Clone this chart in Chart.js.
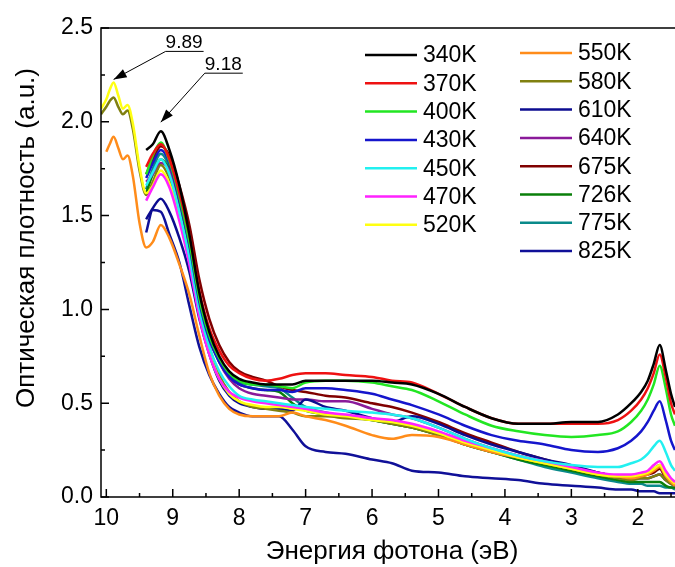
<!DOCTYPE html>
<html>
<head>
<meta charset="utf-8">
<script src="https://cdn.jsdelivr.net/npm/chart.js@4"></script>
<style>
  body { margin: 0; background: #fff; }
</style>
</head>
<body>
<canvas id="chart" width="675" height="567"></canvas>
<script>
const energy = [10.08, 10.0, 9.95, 9.89, 9.82, 9.75, 9.68, 9.6, 9.5, 9.4,
  9.3, 9.18, 9.05, 8.9, 8.75, 8.6, 8.45, 8.3, 8.15, 8.0,
  7.8, 7.6, 7.4, 7.2, 7.0, 6.7, 6.4, 6.0, 5.7, 5.4,
  5.0, 4.6, 4.2, 3.8, 3.4, 3.0, 2.6, 2.3, 2.1, 1.95,
  1.85, 1.76, 1.67, 1.58, 1.5, 1.44];

const t340 = [null, null, null, null, null, null, null, null, null, 1.85,
  1.88, 1.95, 1.85, 1.66, 1.40, 1.09, 0.88, 0.75, 0.67, 0.63,
  0.61, 0.60, 0.60, 0.60, 0.62, 0.62, 0.62, 0.62, 0.61, 0.60,
  0.55, 0.48, 0.42, 0.39, 0.39, 0.40, 0.40, 0.44, 0.50, 0.56,
  0.62, 0.71, 0.81, 0.68, 0.55, 0.48];
const t370 = [null, null, null, null, null, null, null, null, null, 1.76,
  1.83, 1.88, 1.80, 1.62, 1.40, 1.10, 0.90, 0.78, 0.70, 0.66,
  0.63, 0.62, 0.63, 0.65, 0.66, 0.66, 0.65, 0.64, 0.62, 0.61,
  0.55, 0.48, 0.42, 0.39, 0.39, 0.39, 0.39, 0.41, 0.46, 0.52,
  0.58, 0.66, 0.76, 0.64, 0.50, 0.44];
const t400 = [null, null, null, null, null, null, null, null, null, 1.72,
  1.82, 1.89, 1.79, 1.60, 1.36, 1.06, 0.86, 0.74, 0.66, 0.62,
  0.60, 0.60, 0.59, 0.58, 0.61, 0.62, 0.62, 0.61, 0.59, 0.57,
  0.51, 0.44, 0.38, 0.35, 0.33, 0.32, 0.33, 0.35, 0.40, 0.46,
  0.52, 0.60, 0.70, 0.58, 0.44, 0.38];
const t430 = [null, null, null, null, null, null, null, null, null, 1.70,
  1.78, 1.85, 1.78, 1.58, 1.34, 1.04, 0.84, 0.72, 0.64, 0.60,
  0.58, 0.57, 0.57, 0.56, 0.58, 0.58, 0.57, 0.55, 0.52, 0.49,
  0.44, 0.38, 0.33, 0.30, 0.28, 0.25, 0.24, 0.26, 0.30, 0.35,
  0.40, 0.46, 0.51, 0.41, 0.30, 0.25];
const t450 = [null, null, null, null, null, null, null, null, null, 1.66,
  1.73, 1.80, 1.72, 1.52, 1.28, 1.00, 0.80, 0.67, 0.59, 0.54,
  0.52, 0.51, 0.50, 0.49, 0.48, 0.47, 0.46, 0.45, 0.44, 0.42,
  0.37, 0.31, 0.26, 0.22, 0.19, 0.17, 0.16, 0.16, 0.18, 0.20,
  0.23, 0.27, 0.30, 0.24, 0.17, 0.14];
const t470 = [null, null, null, null, null, null, null, null, null, 1.58,
  1.65, 1.72, 1.65, 1.47, 1.24, 0.96, 0.76, 0.63, 0.56, 0.53,
  0.51, 0.50, 0.49, 0.48, 0.47, 0.45, 0.44, 0.42, 0.41, 0.39,
  0.35, 0.30, 0.26, 0.22, 0.19, 0.16, 0.13, 0.12, 0.12, 0.13,
  0.14, 0.17, 0.19, 0.14, 0.10, 0.08];
const t520 = [2.07, 2.12, 2.17, 2.21, 2.14, 2.07, 2.09, 1.99, 1.76, 1.62,
  1.66, 1.74, 1.67, 1.50, 1.27, 0.98, 0.77, 0.63, 0.55, 0.51,
  0.49, 0.48, 0.48, 0.47, 0.46, 0.44, 0.43, 0.41, 0.40, 0.38,
  0.34, 0.29, 0.25, 0.21, 0.18, 0.15, 0.12, 0.11, 0.11, 0.12,
  0.13, 0.15, 0.17, 0.12, 0.09, 0.07];
const t550 = [null, 1.84, 1.88, 1.92, 1.86, 1.80, 1.82, 1.71, 1.46, 1.33,
  1.36, 1.45, 1.38, 1.24, 1.08, 0.86, 0.66, 0.54, 0.47, 0.44,
  0.43, 0.43, 0.43, 0.45, 0.43, 0.41, 0.38, 0.33, 0.31, 0.33,
  0.32, 0.28, 0.24, 0.21, 0.18, 0.15, 0.12, 0.11, 0.10, 0.11,
  0.12, 0.14, 0.16, 0.11, 0.08, 0.06];
const t580 = [2.04, 2.08, 2.11, 2.13, 2.08, 2.04, 2.06, 1.96, 1.74, 1.61,
  1.68, 1.77, 1.70, 1.53, 1.30, 1.01, 0.80, 0.65, 0.56, 0.51,
  0.48, 0.47, 0.46, 0.45, 0.43, 0.43, 0.42, 0.41, 0.39, 0.37,
  0.33, 0.28, 0.24, 0.21, 0.18, 0.15, 0.12, 0.10, 0.09, 0.10,
  0.10, 0.11, 0.12, 0.09, 0.07, 0.06];
const t610 = [null, null, null, null, null, null, null, null, null, 1.48,
  1.54, 1.59, 1.52, 1.38, 1.20, 0.95, 0.76, 0.62, 0.54, 0.50,
  0.48, 0.47, 0.47, 0.46, 0.52, 0.48, 0.46, 0.42, 0.40, 0.43,
  0.39, 0.33, 0.28, 0.24, 0.20, 0.17, 0.13, 0.11, 0.10, 0.10,
  0.10, 0.11, 0.12, 0.09, 0.07, 0.06];
const t640 = [null, null, null, null, null, null, null, null, null, 1.68,
  1.72, 1.78, 1.74, 1.58, 1.36, 1.07, 0.86, 0.72, 0.63, 0.58,
  0.55, 0.54, 0.53, 0.52, 0.52, 0.51, 0.51, 0.47, 0.44, 0.42,
  0.37, 0.31, 0.26, 0.22, 0.19, 0.16, 0.13, 0.11, 0.11, 0.12,
  0.13, 0.15, 0.17, 0.12, 0.09, 0.07];
const t675 = [null, null, null, null, null, null, null, null, null, 1.72,
  1.80, 1.87, 1.82, 1.66, 1.45, 1.16, 0.95, 0.81, 0.72, 0.67,
  0.64, 0.62, 0.59, 0.57, 0.56, 0.54, 0.53, 0.50, 0.48, 0.45,
  0.40, 0.34, 0.29, 0.24, 0.20, 0.16, 0.13, 0.11, 0.10, 0.11,
  0.12, 0.13, 0.15, 0.10, 0.08, 0.06];
const t726 = [null, null, null, null, null, null, null, null, null, 1.62,
  1.72, 1.80, 1.74, 1.57, 1.34, 1.05, 0.85, 0.72, 0.64, 0.60,
  0.58, 0.57, 0.56, 0.50, 0.46, 0.44, 0.43, 0.41, 0.39, 0.37,
  0.33, 0.28, 0.24, 0.20, 0.17, 0.14, 0.11, 0.09, 0.08, 0.08,
  0.08, 0.08, 0.08, 0.06, 0.05, 0.05];
const t775 = [null, null, null, null, null, null, null, null, null, 1.64,
  1.75, 1.83, 1.76, 1.58, 1.35, 1.06, 0.86, 0.73, 0.65, 0.61,
  0.60, 0.59, 0.58, 0.53, 0.48, 0.45, 0.43, 0.41, 0.39, 0.37,
  0.33, 0.28, 0.24, 0.20, 0.16, 0.13, 0.10, 0.08, 0.07, 0.07,
  0.06, 0.06, 0.06, 0.05, 0.05, 0.04];
const t825 = [null, null, null, null, null, null, null, null, null, 1.41,
  1.53, 1.52, 1.40, 1.25, 1.02, 0.80, 0.65, 0.55, 0.48, 0.45,
  0.43, 0.43, 0.43, 0.36, 0.27, 0.24, 0.23, 0.20, 0.18, 0.14,
  0.13, 0.11, 0.10, 0.09, 0.07, 0.06, 0.05, 0.04, 0.04, 0.03,
  0.03, 0.03, 0.02, 0.02, 0.02, 0.02];

const seriesLabels = ["340K", "370K", "400K", "430K", "450K", "470K", "520K",
  "550K", "580K", "610K", "640K", "675K", "726K", "775K", "825K"];
const seriesValues = [t340, t370, t400, t430, t450, t470, t520,
  t550, t580, t610, t640, t675, t726, t775, t825];
const seriesColors = ["#000000", "#ee1111", "#22e622", "#1515cc", "#22f0f0", "#ff22ff", "#ffff11",
  "#ff8c1a", "#808010", "#0c0c90", "#8a1a9a", "#800000", "#0a7f0a", "#0a8a8a", "#101098"];

const xTicks = [10, 9, 8, 7, 6, 5, 4, 3, 2];
const xMinor = [9.5, 8.5, 7.5, 6.5, 5.5, 4.5, 3.5, 2.5, 1.5];
const yTicks = [0, 0.5, 1.0, 1.5, 2.0, 2.5];
const yMinor = [0.25, 0.75, 1.25, 1.75, 2.25];

// peaks marked with arrows: [energy, value, label]
const peakNotes = [[9.89, 2.21, "9.89"], [9.18, 1.95, "9.18"]];

const FONT = "'Liberation Sans', Arial, sans-serif";

const datasets = seriesValues.map((vals, i) => ({
  label: seriesLabels[i],
  data: energy.map((e, j) => ({ x: e, y: vals[j] })),
  borderColor: seriesColors[i],
  backgroundColor: seriesColors[i],
  borderWidth: 2.5,
  pointRadius: 0,
  cubicInterpolationMode: "monotone",
  fill: false,
}));

const framePlugin = {
  id: "frame",
  afterDraw(chart) {
    const { ctx, chartArea: a, scales } = chart;
    const x = scales.x, y = scales.y;
    ctx.save();
    ctx.strokeStyle = "#000";
    ctx.lineWidth = 1.5;
    ctx.beginPath();
    ctx.moveTo(a.right + 2, a.top);
    ctx.lineTo(a.left, a.top);
    ctx.lineTo(a.left, a.bottom);
    ctx.lineTo(a.right + 2, a.bottom);
    ctx.stroke();

    // inward ticks
    ctx.beginPath();
    xTicks.forEach((v) => {
      const px = x.getPixelForValue(v);
      ctx.moveTo(px, a.bottom);
      ctx.lineTo(px, a.bottom - 8);
    });
    xMinor.forEach((v) => {
      const px = x.getPixelForValue(v);
      ctx.moveTo(px, a.bottom);
      ctx.lineTo(px, a.bottom - 4);
    });
    yTicks.forEach((v) => {
      const py = y.getPixelForValue(v);
      ctx.moveTo(a.left, py);
      ctx.lineTo(a.left + 8, py);
    });
    yMinor.forEach((v) => {
      const py = y.getPixelForValue(v);
      ctx.moveTo(a.left, py);
      ctx.lineTo(a.left + 4, py);
    });
    ctx.stroke();

    // axis titles
    ctx.fillStyle = "#000";
    ctx.font = "26px " + FONT;
    ctx.textAlign = "center";
    ctx.textBaseline = "middle";
    ctx.fillText("Энергия фотона (эВ)", 392, 552);
    ctx.save();
    ctx.translate(27, 238);
    ctx.rotate(-Math.PI / 2);
    ctx.fillText("Оптическая плотность (a.u.)", 0, 0);
    ctx.restore();

    // legend, two columns
    ctx.font = "23px " + FONT;
    ctx.textAlign = "left";
    chart.data.datasets.forEach((ds, i) => {
      const col = i < 7 ? 0 : 1;
      const row = col === 0 ? i : i - 7;
      const lx = col === 0 ? 365 : 520;
      const ly = (col === 0 ? 55 : 53) + row * 28.3;
      ctx.strokeStyle = ds.borderColor;
      ctx.lineWidth = 2.5;
      ctx.beginPath();
      ctx.moveTo(lx, ly);
      ctx.lineTo(lx + 52, ly);
      ctx.stroke();
      ctx.fillStyle = "#000";
      ctx.fillText(ds.label, lx + 58, ly + 1);
    });

    // peak annotations
    const offsets = [[52, -28], [44, -49]];
    ctx.font = "19px " + FONT;
    ctx.textBaseline = "alphabetic";
    peakNotes.forEach(([e, v, txt], i) => {
      const tipX = x.getPixelForValue(e);
      const tipY = y.getPixelForValue(v) - 3 - i * 6;
      const sx = tipX + offsets[i][0];
      const sy = tipY + offsets[i][1];
      const w = ctx.measureText(txt).width;
      ctx.fillStyle = "#000";
      ctx.fillText(txt, sx, sy - 3);
      ctx.strokeStyle = "#000";
      ctx.lineWidth = 1;
      ctx.beginPath();
      ctx.moveTo(sx + w + 1, sy);
      ctx.lineTo(sx, sy);
      ctx.lineTo(tipX, tipY);
      ctx.stroke();
      const ang = Math.atan2(tipY - sy, tipX - sx);
      const len = 13, half = 4.5;
      ctx.beginPath();
      ctx.moveTo(tipX, tipY);
      ctx.lineTo(tipX - len * Math.cos(ang) + half * Math.sin(ang), tipY - len * Math.sin(ang) - half * Math.cos(ang));
      ctx.lineTo(tipX - len * Math.cos(ang) - half * Math.sin(ang), tipY - len * Math.sin(ang) + half * Math.cos(ang));
      ctx.closePath();
      ctx.fill();
    });
    ctx.restore();
  },
};

new Chart(document.getElementById("chart"), {
  type: "line",
  data: { datasets },
  options: {
    responsive: false,
    devicePixelRatio: 1,
    animation: false,
    layout: { padding: { top: 28, right: 0, left: 0, bottom: 0 } },
    plugins: { legend: { display: false }, tooltip: { enabled: false } },
    scales: {
      x: {
        type: "linear",
        reverse: true,
        min: 1.44,
        max: 10.08,
        grid: { display: false, drawTicks: false },
        border: { display: false },
        afterBuildTicks: (scale) => {
          scale.ticks = xTicks.map((v) => ({ value: v }));
        },
        afterFit: (scale) => { scale.height = 70; },
        ticks: {
          color: "#000",
          padding: 8,
          maxRotation: 0,
          font: { family: FONT, size: 23 },
          callback: (v) => String(v),
        },
      },
      y: {
        type: "linear",
        min: 0,
        max: 2.5,
        grid: { display: false, drawTicks: false },
        border: { display: false },
        afterBuildTicks: (scale) => {
          scale.ticks = yTicks.map((v) => ({ value: v }));
        },
        afterFit: (scale) => { scale.width = 101; },
        ticks: {
          color: "#000",
          padding: 8,
          font: { family: FONT, size: 23 },
          callback: (v) => Number(v).toFixed(1),
        },
      },
    },
  },
  plugins: [framePlugin],
});
</script>
</body>
</html>
